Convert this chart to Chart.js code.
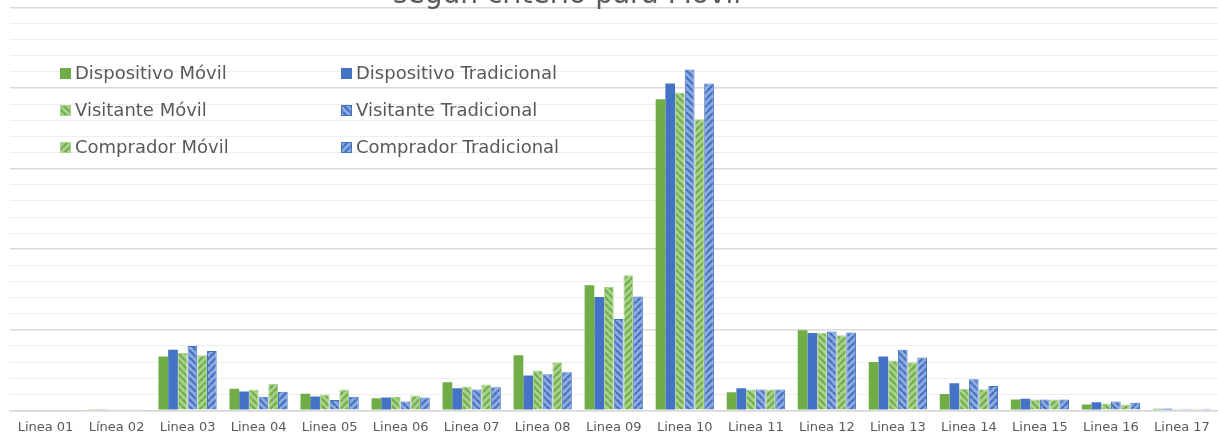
<!DOCTYPE html>
<html>
<head>
<meta charset="utf-8">
<script src="https://cdn.jsdelivr.net/npm/chart.js@4"></script>
<style>
  html, body { margin: 0; padding: 0; background: #fff; }
  #wrap { width: 1218px; height: 438px; }
</style>
</head>
<body>
<div id="wrap"><canvas id="chart"></canvas></div>
<script>
const categories = ['Linea 01', 'Línea 02', 'Linea 03', 'Linea 04', 'Linea 05', 'Linea 06', 'Linea 07', 'Linea 08', 'Linea 09',
    'Linea 10', 'Linea 11', 'Linea 12', 'Linea 13', 'Linea 14', 'Linea 15', 'Linea 16', 'Linea 17'];

const dispositivoMovil      = [0.06, 0.04, 3.35, 1.35, 1.04, 0.75, 1.74, 3.42, 7.76, 19.30, 1.12, 4.97, 3.00, 1.01, 0.68, 0.37, 0.10];
const dispositivoTradicional = [0.06, 0.04, 3.77, 1.18, 0.87, 0.80, 1.37, 2.17, 7.04, 20.29, 1.37, 4.80, 3.35, 1.68, 0.72, 0.50, 0.10];
const visitanteMovil        = [0.06, 0.04, 3.56, 1.30, 0.99, 0.87, 1.49, 2.48, 7.66, 19.73, 1.30, 4.82, 3.09, 1.35, 0.68, 0.43, 0.10];
const visitanteTradicional  = [0.06, 0.04, 3.99, 0.85, 0.64, 0.56, 1.30, 2.24, 5.67, 21.16, 1.30, 4.89, 3.77, 1.94, 0.68, 0.56, 0.10];
const compradorMovil        = [0.06, 0.04, 3.42, 1.66, 1.30, 0.93, 1.60, 2.98, 8.39, 18.06, 1.30, 4.66, 2.98, 1.32, 0.68, 0.37, 0.10];
const compradorTradicional  = [0.06, 0.04, 3.68, 1.16, 0.85, 0.80, 1.43, 2.36, 7.06, 20.29, 1.30, 4.84, 3.29, 1.51, 0.68, 0.47, 0.10];

const green = '#70AD47', lightGreen = '#A9D18E';
const blue = '#4472C4', lightBlue = '#8FAADC';
const textColor = '#595959';
const fontFamily = '"DejaVu Sans", Verdana, sans-serif';

// diagonal stripe fill, dir 1 = "\" , -1 = "/"
function stripes(bg, fg, dir) {
    const size = 7;
    const c = document.createElement('canvas');
    c.width = size; c.height = size;
    const g = c.getContext('2d');
    g.fillStyle = bg;
    g.fillRect(0, 0, size, size);
    g.strokeStyle = fg;
    g.lineWidth = 2.2;
    for (let k = -1; k <= 1; k++) {
        g.beginPath();
        if (dir > 0) {
            g.moveTo(k * size, 0);
            g.lineTo(k * size + size, size);
        } else {
            g.moveTo(k * size, size);
            g.lineTo(k * size + size, 0);
        }
        g.stroke();
    }
    return g.createPattern(c, 'repeat');
}

const datasets = [
    { label: 'Dispositivo Móvil', data: dispositivoMovil, backgroundColor: green, borderWidth: 0 },
    { label: 'Dispositivo Tradicional', data: dispositivoTradicional, backgroundColor: blue, borderWidth: 0 },
    { label: 'Visitante Móvil', data: visitanteMovil, backgroundColor: stripes(lightGreen, green, 1), borderColor: lightGreen, borderWidth: 1 },
    { label: 'Visitante Tradicional', data: visitanteTradicional, backgroundColor: stripes(lightBlue, blue, 1), borderColor: blue, borderWidth: 1 },
    { label: 'Comprador Móvil', data: compradorMovil, backgroundColor: stripes(lightGreen, green, -1), borderColor: lightGreen, borderWidth: 1 },
    { label: 'Comprador Tradicional', data: compradorTradicional, backgroundColor: stripes(lightBlue, blue, -1), borderColor: blue, borderWidth: 1 },
].map(d => Object.assign(d, { barPercentage: 1, categoryPercentage: 0.82 }));

// title line that sits cut off at the top edge
const topTitle = {
    id: 'topTitle',
    afterDraw(chart) {
        const ctx = chart.ctx;
        ctx.save();
        ctx.font = '28px ' + fontFamily;
        ctx.fillStyle = textColor;
        ctx.textAlign = 'center';
        ctx.textBaseline = 'alphabetic';
        ctx.fillText('según criterio para Móvil', 567, 3);
        ctx.restore();
    }
};

// legend drawn inside the plot, 3 rows x 2 columns
const innerLegend = {
    id: 'innerLegend',
    afterDraw(chart) {
        const ctx = chart.ctx;
        const colX = [60, 341];
        const rowY = [73.5, 110.5, 147.5];
        ctx.save();
        ctx.font = '18px ' + fontFamily;
        ctx.textBaseline = 'middle';
        chart.data.datasets.forEach((ds, i) => {
            const x = colX[i % 2];
            const y = rowY[Math.floor(i / 2)];
            ctx.fillStyle = ds.backgroundColor;
            ctx.fillRect(x, y - 5.5, 11, 11);
            if (ds.borderWidth) {
                ctx.strokeStyle = ds.borderColor;
                ctx.lineWidth = 1;
                ctx.strokeRect(x + 0.5, y - 5, 10, 10);
            }
            ctx.fillStyle = textColor;
            ctx.fillText(ds.label, x + 15, y + 1);
        });
        ctx.restore();
    }
};

new Chart(document.getElementById('chart'), {
    type: 'bar',
    data: { labels: categories, datasets: datasets },
    options: {
        responsive: true,
        maintainAspectRatio: false,
        animation: false,
        layout: { padding: { left: 10, right: 0.5, top: 7.5, bottom: 2 } },
        plugins: {
            legend: { display: false },
            tooltip: { enabled: false },
        },
        scales: {
            x: {
                grid: { display: false },
                border: { color: '#d9d9d9', width: 1.5 },
                ticks: {
                    color: textColor,
                    font: { family: fontFamily, size: 13 },
                    maxRotation: 0,
                    autoSkip: false,
                    padding: 1,
                },
            },
            y: {
                min: 0,
                max: 25,
                ticks: { display: false, stepSize: 1 },
                border: { display: false },
                grid: {
                    drawTicks: false,
                    color: c => c.tick.value % 5 === 0 ? '#d9d9d9' : '#eeeeee',
                    lineWidth: c => c.tick.value % 5 === 0 ? 1.6 : 1,
                },
            },
        },
    },
    plugins: [topTitle, innerLegend],
});
</script>
</body>
</html>
